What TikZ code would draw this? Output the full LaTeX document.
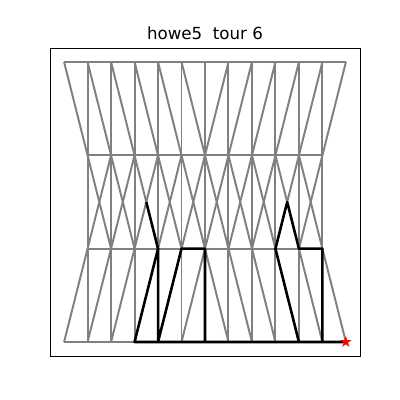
\documentclass[tikz,border=0pt]{standalone}
\usepackage{fontspec}
\setmainfont{DejaVu Sans}
\usetikzlibrary{shapes.geometric}

\begin{document}
\begin{tikzpicture}[
    x=0.58712cm, y=2.33333cm,
    mesh/.style={line width=1.4pt, gray},
    tour/.style={line width=1.8pt, black, line join=round},
    frame/.style={line width=0.65pt, black},
    goal/.style={star, star points=5, star point ratio=2.6, fill=red, inner sep=0pt, minimum size=8.5pt}
  ]
  \useasboundingbox (-2.7291,-0.62143) rectangle (14.303,3.6643);
  \foreach \i in {0,...,12} {
    \coordinate (b\i) at (\i,0);
    \coordinate (l\i) at (\i,1);
    \coordinate (u\i) at (\i,2);
    \coordinate (t\i) at (\i,3);
    \coordinate (x\i) at (\i+0.5,1.5);
  }

  \draw[mesh] (t0) -- (t12);
  \draw[mesh] (u1) -- (u11);
  \draw[mesh] (l1) -- (l11);
  \draw[mesh] (b0) -- (b12);
  \foreach \i in {1,...,11}
    \draw[mesh] (t\i) -- (b\i);
  \foreach \i [evaluate=\i as \j using int(\i+1)] in {0,...,5} {
    \draw[mesh] (t\i) -- (u\j);
    \draw[mesh] (l\j) -- (b\i);
  }
  \foreach \i [evaluate=\i as \j using int(\i+1)] in {6,...,11} {
    \draw[mesh] (t\j) -- (u\i);
    \draw[mesh] (l\i) -- (b\j);
  }
  \foreach \i [evaluate=\i as \j using int(\i+1)] in {1,...,10} {
    \draw[mesh] (u\i) -- (l\j);
    \draw[mesh] (u\j) -- (l\i);
  }

  \draw[tour] (x3) -- (l4) -- (b3) -- (b12);
  \draw[tour] (l4) -- (b4) -- (l5) -- (l6) -- (b6);
  \draw[tour] (b10) -- (l9) -- (x9) -- (l10) -- (l11) -- (b11);
  \node[goal] (end) at (b12) {};

  \draw[frame] (-0.6,-0.15) rectangle (12.6,3.15);
  \node[anchor=base, font=\fontsize{11.85}{14}\selectfont] (title) at (6,3.239) {howe5\ \ tour 6};
\end{tikzpicture}
\end{document}
